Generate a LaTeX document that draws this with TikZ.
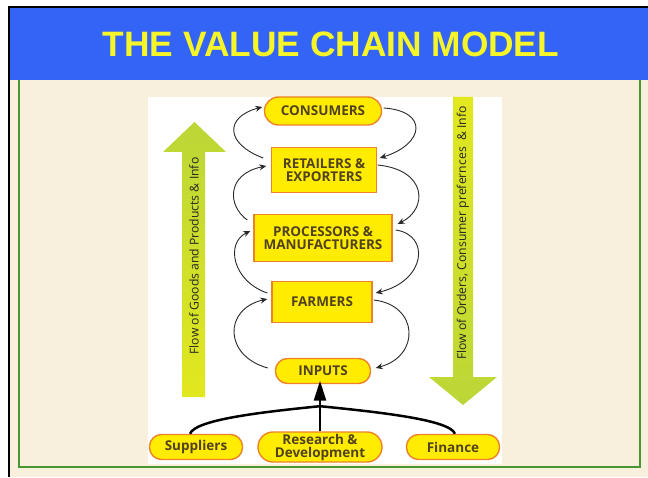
\documentclass[tikz,border=0pt]{standalone}
\usepackage{fontspec}
\setmainfont{Open Sans}
\newfontfamily\titlefont{Liberation Sans}
\usetikzlibrary{arrows.meta,calc}
\definecolor{bgbeige}{RGB}{248,240,221}
\definecolor{hdrblue}{RGB}{52,100,246}
\definecolor{ttlyellow}{RGB}{245,245,40}
\definecolor{frgreen}{RGB}{70,150,50}
\definecolor{boxyellow}{RGB}{255,236,0}
\definecolor{boxorange}{RGB}{238,130,40}
\definecolor{boxtext}{RGB}{80,66,30}
\definecolor{agreen}{RGB}{188,214,55}
\definecolor{ayellow}{RGB}{226,232,30}
\definecolor{curvecol}{RGB}{40,40,40}
\begin{document}
\begin{tikzpicture}[x=1pt,y=1pt,
  chainbox/.style={draw=boxorange, line width=1.4pt, fill=boxyellow, text=boxtext,
    font=\bfseries\fontsize{13.5}{13}\selectfont, align=center, inner sep=0pt},
  pill/.style={chainbox, rounded corners=12pt},
  loop/.style={draw=curvecol, line width=0.9pt, -{Stealth[length=7pt,width=6pt]}},
  feed/.style={draw=black, line width=2.5pt},
  flowtext/.style={text=black!85, font=\fontsize{12.2}{12}\selectfont, rotate=90}
]
\useasboundingbox (0,0) rectangle (648,477);
\fill[white] (0,0) rectangle (648,477);
\fill[bgbeige] (10,0) rectangle (648,397);
\fill[hdrblue] (10,397) rectangle (648,469);
\fill[black] (8,0) rectangle (10,471);
\fill[black] (8,469) rectangle (648,471);
\draw[frgreen, line width=1.5pt] (19,397) -- (19,10) -- (640,10) -- (640,397);
\node[text=ttlyellow, font=\titlefont\bfseries\fontsize{35.3}{35}\selectfont] (title) at (331,433) {THE VALUE CHAIN MODEL};
\fill[white] (148,13) rectangle (502,380);

% side arrows
\shade[top color=agreen, bottom color=ayellow] (182,80) -- (182,325) -- (163,325) -- (194.5,355) -- (226,325) -- (205,325) -- (205,80) -- cycle;
\shade[top color=ayellow, bottom color=agreen] (453,380) -- (453,100) -- (429,100) -- (463,72) -- (497,100) -- (473,100) -- (473,380) -- cycle;
\node[flowtext] (lt) at (194,221) {Flow of Goods and Products \& Info};
\node[flowtext] (rt) at (463,244) {Flow of Orders, Consumer prefernces\ \ \& Info};

% nodes
\node[pill, rounded corners=14pt, minimum width=117pt, minimum height=28pt] (con) at (323,366) {CONSUMERS};
\node[chainbox, minimum width=105pt, minimum height=45pt] (ret) at (324,307) {RETAILERS \&\\EXPORTERS};
\node[chainbox, minimum width=138pt, minimum height=47pt] (pro) at (323,239) {PROCESSORS \&\\MANUFACTURERS};
\node[chainbox, minimum width=100pt, minimum height=41pt] (far) at (322,175) {FARMERS};
\node[pill, minimum width=95pt, minimum height=25pt] (inp) at (323,106) {INPUTS};
\node[pill, minimum width=93pt, minimum height=25pt] (sup) at (196,30) {Suppliers};
\node[pill, rounded corners=15pt, minimum width=124pt, minimum height=30pt] (rnd) at (320,30) {Research \&\\Development};
\node[pill, minimum width=93pt, minimum height=25pt] (fin) at (453,30) {Finance};

% upward loops (left)
\draw[loop] ([shift={(-7.5,12)}]ret.west) .. controls +(-38,14) and +(-38,-10) .. ([shift={(-1.5,4)}]con.west);
\draw[loop] ([shift={(-6,18)}]pro.west) .. controls +(-20,14) and +(-40,-8) .. ([shift={(-4.5,4)}]ret.west);
\draw[loop] ([shift={(-4,9)}]far.west) .. controls +(-35,12) and +(-25,-12) .. ([shift={(-3,7)}]pro.west);
\draw[loop] ([shift={(-7,3)}]inp.west) .. controls +(-44,12) and +(-44,-10) .. ([shift={(-4,3)}]far.west);
% downward loops (right)
\draw[loop] ([shift={(1.5,3)}]con.east) .. controls +(45,-3) and +(45,14) .. ([shift={(2.5,12)}]ret.east);
\draw[loop] ([shift={(0.5,5)}]ret.east) .. controls +(50,-5) and +(30,15) .. ([shift={(5,14)}]pro.east);
\draw[loop] ([shift={(3,8)}]pro.east) .. controls +(35,-5) and +(50,12) .. ([shift={(3,9)}]far.east);
\draw[loop] ([shift={(1,2)}]far.east) .. controls +(45,-5) and +(45,12) .. ([shift={(4.5,3)}]inp.east);

% feeds into inputs
\coordinate (m) at ([yshift=-22]inp.south -| rnd.north);
\draw[feed] ([xshift=-6]sup.north) .. controls +(5,14) and +(-60,-6) .. (m);
\draw[feed] ([xshift=2]fin.north) .. controls +(-5,14) and +(60,-6) .. (m);
\draw[feed, shorten >=-3.5pt, -{Triangle[length=20pt,width=12pt]}] (rnd.north) -- (inp.south -| rnd.north);
\end{tikzpicture}
\end{document}
